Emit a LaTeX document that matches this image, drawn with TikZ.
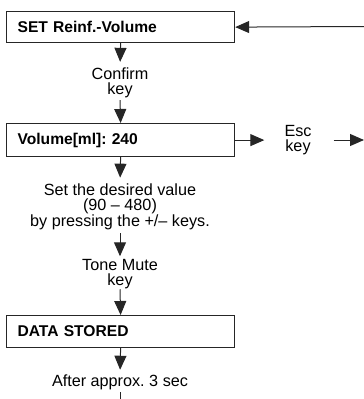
\documentclass[tikz,border=0pt]{standalone}
\usepackage{fontspec}
\setmainfont{Liberation Sans}
\usetikzlibrary{arrows.meta}
\begin{document}
\frenchspacing
\begin{tikzpicture}[x=1pt,y=-1pt,
  box/.style={draw=black!85,line width=1.2pt,anchor=north west,minimum width=228pt,
    text width=206pt,inner xsep=11pt,inner ysep=0pt,align=left,
    font=\fontsize{15.6}{15.6}\selectfont\bfseries},
  lbl/.style={inner sep=0pt,align=center,font=\fontsize{16.2}{15.6}\selectfont},
  arr/.style={draw=black!85,line width=1pt,-{Triangle[length=14pt,width=12pt]}},
  ln/.style={draw=black!85,line width=1pt}]
\useasboundingbox (0,0) rectangle (364,399);
\node[box,minimum height=31pt] (b1) at (6,11) {SET Reinf.-Volume};
\node[box,minimum height=33pt] (b2) at (6,123) {Volume[ml]: 240};
\node[box,minimum height=32pt] (b3) at (6,315) {DATA STORED};
\node[lbl] (conf) at (120,82.9) {Confirm\\key};
\node[lbl] (set) at (120,206.5) {Set the desired value\\(90 -- 480)\\by pressing the +/-- keys.};
\node[lbl] (tone) at (120,274) {Tone Mute\\key};
\node[lbl] (after) at (120,382) {After approx. 3 sec};
\node[lbl] (esc) at (298,140) {Esc\\key};
\coordinate (rin) at (364,26.5);
\coordinate (rout) at (364,140);
\coordinate (bot) at (120,399);
\draw[arr] (rin) -- (b1.east);
\draw[arr,shorten >=5.5pt] (b1.south) -- (conf.north);
\draw[arr,shorten <=1.7pt] (conf.south) -- (b2.north);
\draw[arr,shorten >=20pt] (b2.east) -- (esc.west |- b2.east);
\draw[arr,shorten <=22pt] (esc.east |- rout) -- (rout);
\draw[arr,shorten >=5.5pt] (b2.south) -- (set.north);
\draw[arr,shorten <=3.6pt,shorten >=2.5pt] (set.south) -- (tone.north);
\draw[arr] (tone.south) -- (b3.north);
\draw[arr,shorten >=4.5pt] (b3.south) -- (after.north);
\draw[ln,shorten <=2.6pt] (after.south) -- (bot);
\end{tikzpicture}
\end{document}
